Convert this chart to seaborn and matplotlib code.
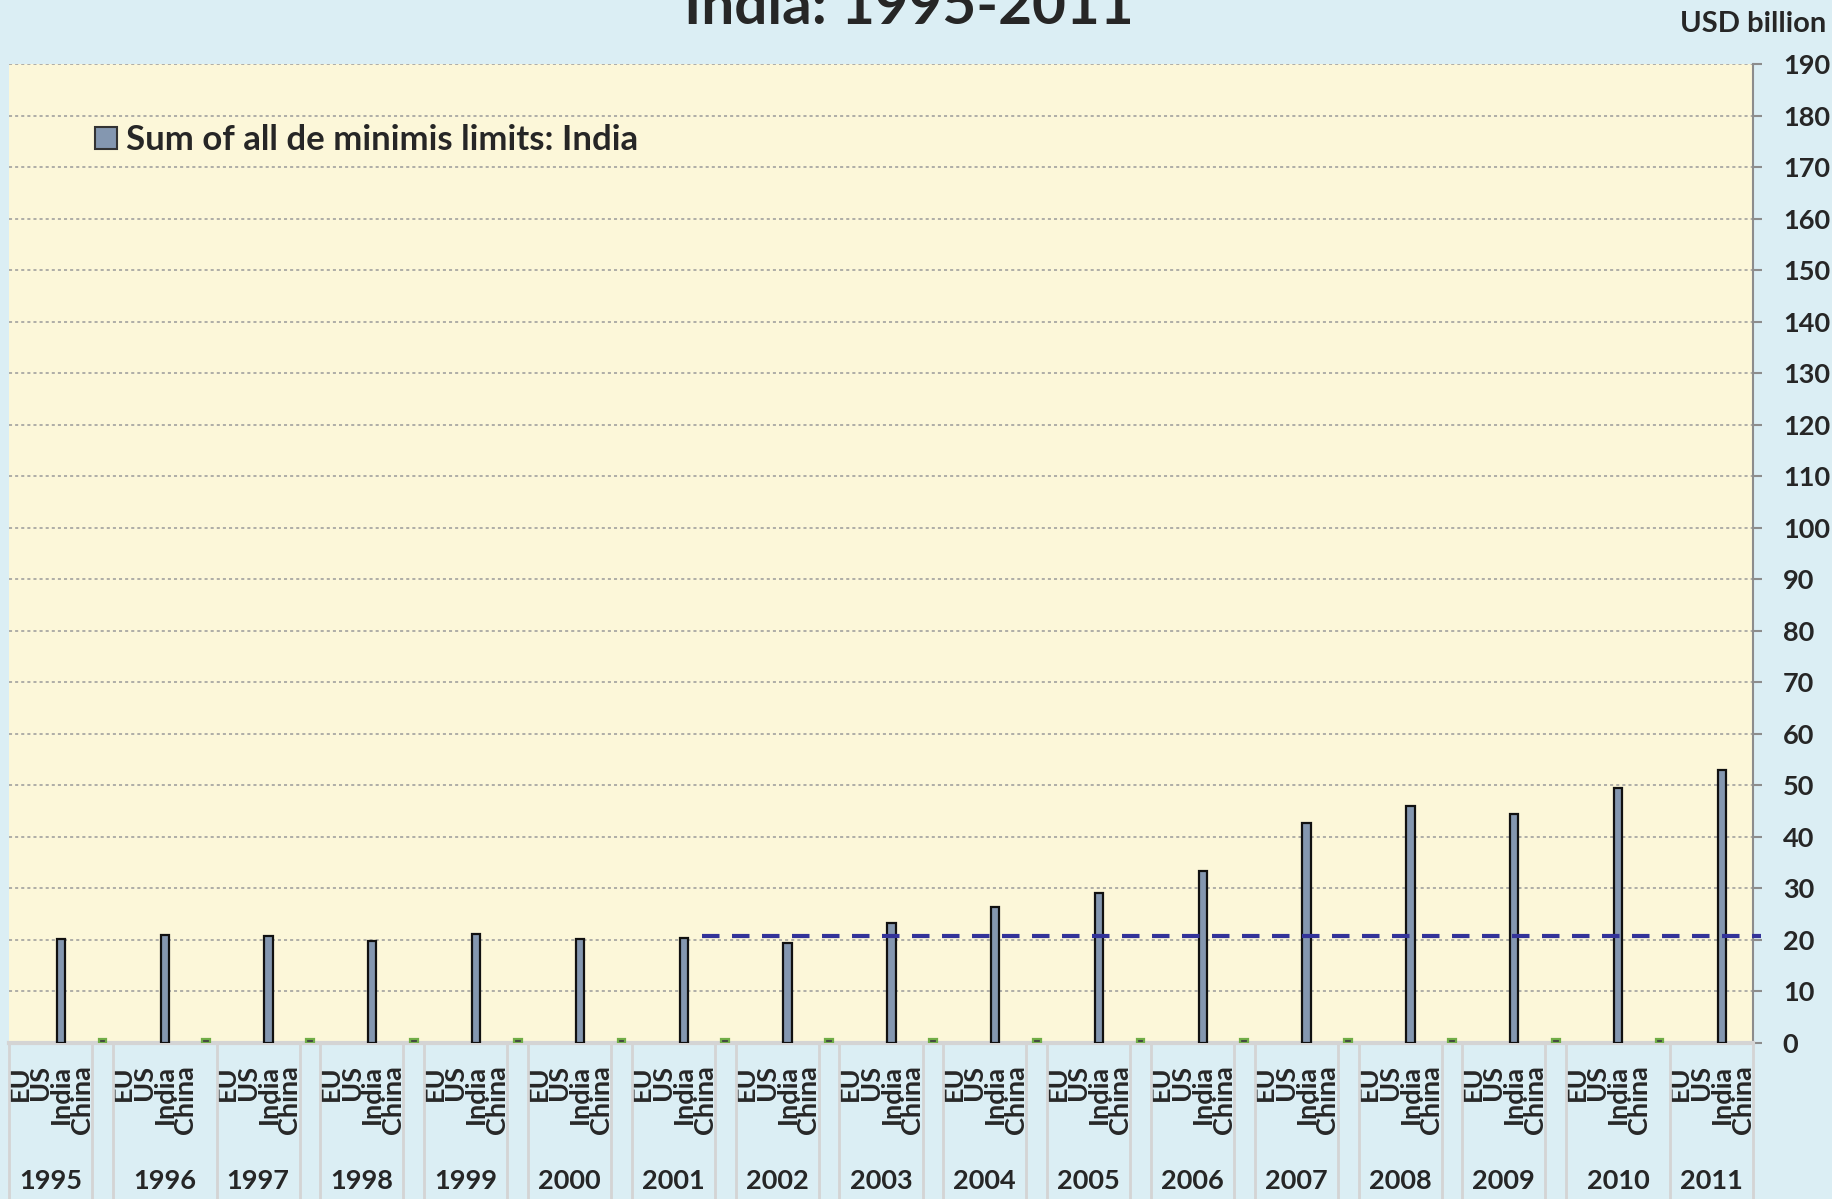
import numpy as np
import pandas as pd
import matplotlib
matplotlib.use("Agg")
import matplotlib.pyplot as plt
import matplotlib.transforms as mtransforms
from matplotlib.patches import Patch
import seaborn as sns

# --- Data ---
years = [1995, 1996, 1997, 1998, 1999, 2000, 2001, 2002, 2003,
         2004, 2005, 2006, 2007, 2008, 2009, 2010, 2011]
india_sum = [20.2, 20.9, 20.7, 19.8, 21.1, 20.2, 20.4, 19.5, 23.2,
             26.3, 29.1, 33.4, 42.7, 45.9, 44.5, 49.4, 53.0]
# tiny marks sitting on the axis between the year groups
china_marks = [0.8, 0.8, 0.8, 0.8, 0.8, 0.8, 0.8, 0.8,
               0.8, 0.8, 0.8, 0.8, 0.8, 0.8, 0.8, 0.8]
sub_labels = ["EU", "US", "India", "China"]
ref_level = 20.8           # dashed reference line (USD billion)
ref_start_year = 2001

# Excel's category boxes for the year labels (in category slots)
year_box_start = [0, 5, 10, 15, 20, 25, 30, 35, 40, 45, 50, 55, 60, 65, 70, 75, 80]
year_box_end = [4, 10, 14, 19, 24, 29, 34, 39, 44, 49, 54, 59, 64, 69, 74, 80, 84]
box_edges = [0, 4, 5, 10, 14, 15, 19, 20, 24, 25, 29, 30, 34, 35, 39, 40, 44, 45,
             49, 50, 54, 55, 59, 60, 64, 65, 69, 70, 74, 75, 80, 84]

# --- Styling ---
FIG_BG = "#DBEEF4"
PLOT_BG = "#FCF7D9"
BAR_COLOR = "#8497B0"
GREEN = "#70AD47"
NAVY = "#333399"
SEP_COLOR = "#D4D4D4"
AXIS_GRAY = "#8C8C8C"
FS = 19.5

sns.set_style("white")
plt.rcParams["font.family"] = ["Lato", "DejaVu Sans"]
plt.rcParams["font.weight"] = "bold"

# category slots: 5 per year (EU, US, India, China, gap), slot centre at k + 0.5
slots_per_year = 5
df = pd.DataFrame({"year": years, "india": india_sum})
df["pos"] = [i * slots_per_year + 2.5 for i in range(len(years))]
dm = pd.DataFrame({"mark": china_marks})
dm["pos"] = [i * slots_per_year + 4.5 for i in range(len(china_marks))]

fig = plt.figure(figsize=(18.33, 11.99), dpi=100, facecolor=FIG_BG)
ax = fig.add_axes([9 / 1833, 1 - 1043 / 1199, (1753 - 9) / 1833, (1043 - 64) / 1199])
ax.set_facecolor(PLOT_BG)

sns.barplot(data=df, x="pos", y="india", native_scale=True, orient="x",
            width=0.08, color=BAR_COLOR, edgecolor="#111111", linewidth=1.6,
            errorbar=None, saturation=1, ax=ax, zorder=3)
sns.barplot(data=dm, x="pos", y="mark", native_scale=True, orient="x",
            width=0.075, color="#404040", edgecolor=GREEN, linewidth=1.6,
            errorbar=None, saturation=1, ax=ax, zorder=3)

# dashed reference line from 2001 onwards
x_ref = years.index(ref_start_year) * slots_per_year + 3.4
ax.hlines(ref_level, x_ref, 84.4, colors=NAVY, linestyles=(0, (4.2, 3.0)),
          linewidth=3.0, zorder=4, clip_on=False)

ax.set_xlim(0, 84)
ax.set_ylim(0, 190)
ax.set_xlabel("")
ax.set_ylabel("")

# y axis on the right
ax.yaxis.tick_right()
ax.set_yticks(np.arange(0, 191, 10))
ax.tick_params(axis="y", direction="out", length=6.5, width=1.5, color=AXIS_GRAY,
               pad=15, labelsize=FS)
for t in ax.get_yticklabels():
    t.set_fontweight("bold")
ax.yaxis.grid(True, color="#9A9A9A", linestyle=(0, (2, 2)), linewidth=1.1)
ax.set_axisbelow(True)

for s in ["left", "top"]:
    ax.spines[s].set_visible(False)
ax.spines["right"].set_color(AXIS_GRAY)
ax.spines["right"].set_linewidth(1.5)
ax.spines["bottom"].set_color(SEP_COLOR)
ax.spines["bottom"].set_linewidth(3)

# sub-category tick labels (EU / US / India / China) per year
sub_pos, sub_txt = [], []
for i in range(len(years)):
    for k, lab in enumerate(sub_labels):
        sub_pos.append(i * slots_per_year + k + 0.5)
        sub_txt.append(lab)
ax.set_xticks(sub_pos)
ax.set_xticklabels(sub_txt, rotation=90, fontsize=FS, fontweight="bold")
ax.tick_params(axis="x", length=0, pad=16)

# year boxes below the axis
trans = mtransforms.blended_transform_factory(ax.transData, ax.transAxes)
bottom_frac = -(1199 - 1043) / (1043 - 64)
for e in box_edges:
    ax.plot([e, e], [0, bottom_frac], transform=trans, color=SEP_COLOR,
            linewidth=2, clip_on=False, zorder=1)
for y, a, b in zip(years, year_box_start, year_box_end):
    ax.text((a + b) / 2, (1043 - 1181) / (1043 - 64), str(y), transform=trans,
            ha="center", va="center", fontsize=FS, fontweight="bold")

# legend
LEG_FS = 25
handle = Patch(facecolor=BAR_COLOR, edgecolor="#333333", linewidth=1.5,
               label="Sum of all de minimis limits: India")
ax.legend(handles=[handle], loc="center left", bbox_to_anchor=(0.0495, (1043 - 140) / 979),
          frameon=False, prop={"weight": "bold", "size": LEG_FS},
          handlelength=0.62, handleheight=0.62, handletextpad=0.25,
          borderpad=0, borderaxespad=0)

# title (partly cut off at the top, as in the original) and unit label
fig.text(0.496, 1 - 24 / 1199, "India: 1995-2011", ha="center", va="baseline",
         fontsize=42, fontweight="bold")
fig.text(1826 / 1833, 1 - 24 / 1199, "USD billion", ha="right", va="center",
         fontsize=21, fontweight="bold")

fig.savefig("out.png", dpi=100, facecolor=FIG_BG)
